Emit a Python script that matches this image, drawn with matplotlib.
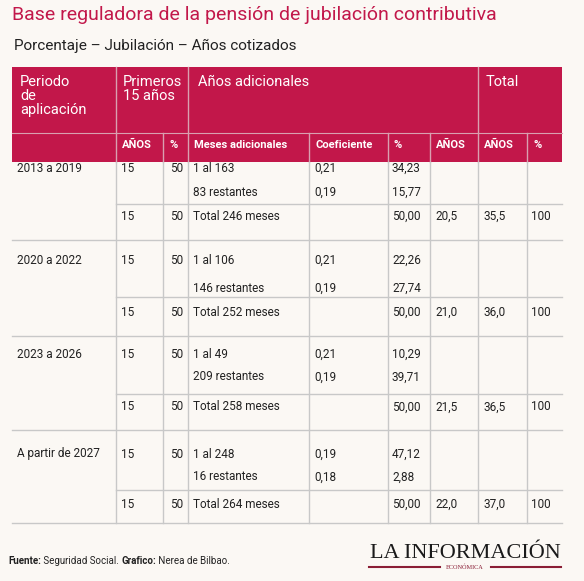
import matplotlib.pyplot as plt

W, H = 584, 581
BG = '#fbf8f4'
RED = '#c2174a'
TXT = '#222222'
GRID = '#c8c8c8'

title = 'Base reguladora de la pensión de jubilación contributiva'
subtitle = 'Porcentaje – Jubilación – Años cotizados'
sub_headers = ['AÑOS', '%', 'Meses adicionales', 'Coeficiente', '%', 'AÑOS', 'AÑOS', '%']

periods = ['2013 a 2019', '2020 a 2022', '2023 a 2026', 'A partir de 2027']
first_months = ['1 al 163', '1 al 106', '1 al 49', '1 al 248']
second_months = ['83 restantes', '146 restantes', '209 restantes', '16 restantes']
total_months = ['Total 246 meses', 'Total 252 meses', 'Total 258 meses', 'Total 264 meses']
coef1 = ['0,21', '0,21', '0,21', '0,19']
coef2 = ['0,19', '0,19', '0,19', '0,18']
pct1 = ['34,23', '22,26', '10,29', '47,12']
pct2 = ['15,77', '27,74', '39,71', '2,88']
extra_years = ['20,5', '21,0', '21,5', '22,0']
total_years = ['35,5', '36,0', '36,5', '37,0']
footer = [('Fuente:', 'bold'), (' Seguridad Social. ', 'normal'),
          ('Grafico:', 'bold'), (' Nerea de Bilbao.', 'normal')]

# layout (pixels)
cols = [12, 116, 163, 188, 309, 388, 430, 478, 527, 562]
group_rows = [(168, 192, 216, 204, 240), (260, 288, 312, 297, 336),
              (354, 377, 407, 394, 430), (454, 477, 504, 490, 523)]

plt.rcParams['font.family'] = ['Roboto', 'DejaVu Sans']
fig = plt.figure(figsize=(W / 100, H / 100), dpi=100, facecolor=BG)
ax = fig.add_axes([0, 0, 1, 1])
ax.set_xlim(0, W)
ax.set_ylim(H, 0)
ax.axis('off')

ax.text(12, 15, title, fontsize=14, color=RED, va='center')
ax.text(14, 46, subtitle, fontsize=11, color=TXT, va='center')

# header
ax.add_patch(plt.Rectangle((12, 67), 550, 95, color=RED, lw=0))
for x in [116, 188, 478]:
    ax.plot([x, x], [67, 162], color='#d9a0b0', lw=1)
for x in [163, 309, 388, 430, 527]:
    ax.plot([x, x], [133, 162], color='#d9a0b0', lw=1)
ax.plot([12, 562], [133, 133], color='#d9a0b0', lw=0.8)
ax.text(20, 75, 'Periodo\nde\naplicación', fontsize=10.5, color='white', va='top', linespacing=1.0)
ax.text(123, 75, 'Primeros\n15 años', fontsize=10.5, color='white', va='top', linespacing=1.0)
ax.text(198, 75, 'Años adicionales', fontsize=10.5, color='white', va='top')
ax.text(486, 75, 'Total', fontsize=10.5, color='white', va='top')
for i, s in enumerate(sub_headers):
    ax.text(cols[i + 1] + 6, 145, s, fontsize=8, color='white', va='center', fontweight='bold')

# body lines
for x in cols[1:-1]:
    ax.plot([x, x], [162, 523], color=GRID, lw=1)
for g in group_rows:
    ax.plot([116, 562], [g[3], g[3]], color=GRID, lw=1)
    ax.plot([12, 562], [g[4], g[4]], color=GRID, lw=1)

fs = 8.5
for i, (r1, r2, r3, _, _) in enumerate(group_rows):
    ax.text(17, r1, periods[i], fontsize=fs, color=TXT, va='center')
    for r, m in [(r1, first_months[i]), (r3, total_months[i])]:
        ax.text(121, r, '15', fontsize=fs, color=TXT, va='center')
        ax.text(183, r, '50', fontsize=fs, color=TXT, va='center', ha='right')
        ax.text(193, r, m, fontsize=fs, color=TXT, va='center')
    ax.text(193, r2, second_months[i], fontsize=fs, color=TXT, va='center')
    ax.text(314, r1, coef1[i], fontsize=fs, color=TXT, va='center')
    ax.text(314, r2, coef2[i], fontsize=fs, color=TXT, va='center')
    ax.text(392, r1, pct1[i], fontsize=fs, color=TXT, va='center')
    ax.text(392, r2, pct2[i], fontsize=fs, color=TXT, va='center')
    ax.text(392, r3, '50,00', fontsize=fs, color=TXT, va='center')
    ax.text(435, r3, extra_years[i], fontsize=fs, color=TXT, va='center')
    ax.text(483, r3, total_years[i], fontsize=fs, color=TXT, va='center')
    ax.text(531, r3, '100', fontsize=fs, color=TXT, va='center')

# footer, pieces placed one after another
renderer = fig.canvas.get_renderer()
x = 8
for s, w in footer:
    t = ax.text(x, 561, s, fontsize=7, color=TXT, va='center', fontweight=w)
    x += t.get_window_extent(renderer).width
ax.text(465, 553, 'LA INFORMACIÓN', fontsize=16, color='#1a1a1a', va='center', ha='center',
        family='Liberation Serif')
ax.plot([369, 440], [567, 567], color='#8a1d35', lw=1.5)
ax.plot([491, 561], [567, 567], color='#8a1d35', lw=1.5)
ax.text(465, 567, 'ECONÓMICA', fontsize=4.5, color='#8a1d35', va='center', ha='center',
        family='Liberation Serif')

fig.savefig('out.png', dpi=100, facecolor=BG)
